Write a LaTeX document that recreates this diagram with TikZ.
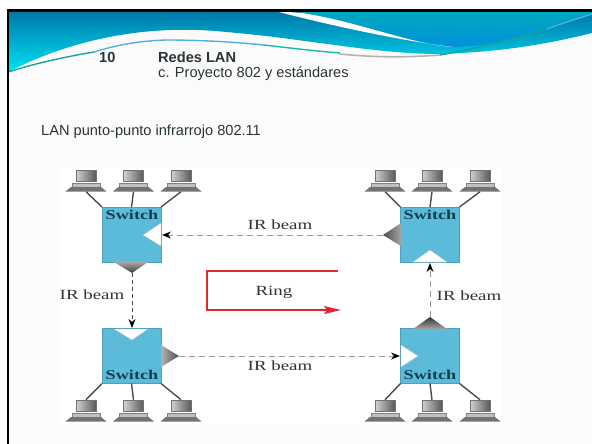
\documentclass[tikz,border=0pt]{standalone}
\usepackage{fontspec}
\setmainfont{Liberation Sans}
\newfontfamily\serifwide[FakeStretch=1.35]{Liberation Serif}
\usetikzlibrary{arrows.meta}
\definecolor{swblue}{HTML}{5CBBD9}
\definecolor{inktext}{HTML}{2A3438}
\definecolor{swink}{HTML}{123F50}
\definecolor{ringred}{HTML}{E2282E}
\definecolor{headtop}{HTML}{0075A8}
\definecolor{headbot}{HTML}{00E2F2}
\definecolor{sweeptop}{HTML}{00AABB}
\definecolor{sweepbot}{HTML}{0090DC}
\definecolor{linea}{HTML}{1E9E9E}
\definecolor{lineb}{HTML}{55B0DC}
\definecolor{linec}{HTML}{1CB8A8}
\tikzset{
  switchbox/.style={draw=swblue!85!black,line width=.6pt,fill=swblue,minimum width=59pt,minimum height=55pt,inner sep=0pt,outer sep=0pt},
  switchlabel/.style={font=\serifwide\bfseries\fontsize{13.5}{13.5}\selectfont,text=swink,inner sep=0pt},
  beamlabel/.style={font=\serifwide\fontsize{14}{14}\selectfont,text=black!80,inner sep=0pt},
  slidetext/.style={font=\fontsize{14.6}{16}\selectfont,text=inktext,anchor=west,inner sep=0pt},
  slidehead/.style={slidetext,font=\bfseries\fontsize{14.6}{16}\selectfont},
  beam/.style={draw=black!40,line width=1pt,dash pattern=on 6pt off 4pt},
  thinbeam/.style={draw=black!70,line width=.8pt,dash pattern=on 4pt off 3pt},
  beamhead/.style={-{Stealth[length=9pt,width=7pt,black]}},
  pclink/.style={draw=black!70,line width=1.4pt},
  pcnode/.style={minimum width=41pt,minimum height=22pt,inner sep=0pt,outer sep=0pt},
  notch/.style={fill=white,draw=black!25,line width=.3pt},
}
\newcommand{\pcdraw}[2]{%
  \shade[left color=black!18,right color=black!65,draw=black!55,line width=.4pt] (#1-10,#2) rectangle (#1+10,#2+11);
  \fill[black!25,draw=black!50,line width=.3pt] (#1-14,#2+13) rectangle (#1+14,#2+17);
  \fill[black!55] (#1-20.5,#2+21.5) -- (#1-15,#2+17) -- (#1+15,#2+17) -- (#1+20.5,#2+21.5) -- cycle;
}
\begin{document}
\begin{tikzpicture}[x=1pt,y=-1pt]
\useasboundingbox (0,0) rectangle (592,444);
\fill[white] (0,0) rectangle (592,444);
\fill[black!1.5] (8,10) rectangle (592,444);
\fill[white] (60,168) rectangle (503,425);
% header
\begin{scope}
\clip (8,10) rectangle (592,120);
\shade[top color=headtop,bottom color=headbot] (8,10) -- (592,10) -- (592,33)
  .. controls (540,46) and (490,53) .. (434,54)
  .. controls (370,53) and (300,38) .. (226,32)
  .. controls (170,26) and (90,30) .. (8,72) -- cycle;
\shade[top color=sweeptop,bottom color=sweepbot] (302,10) -- (592,10) -- (592,14)
  .. controls (550,28) and (500,46) .. (453,47)
  .. controls (410,44) and (360,22) .. (302,13) -- cycle;
\fill[white] (275,11) -- (302,13) .. controls (360,22) and (410,44) .. (453,47)
  .. controls (410,42) and (340,28) .. (275,11) -- cycle;
\draw[line width=1.4pt,linea] (8,72) .. controls (40,62) and (70,56) .. (94,52);
\draw[line width=1.4pt,lineb] (94,52) .. controls (120,44) and (140,41) .. (166,40) .. controls (200,40) and (235,42) .. (264,45);
\draw[line width=1.4pt,linec] (264,45) .. controls (290,48) and (315,51) .. (340,53);
\draw[line width=1.6pt,black!30] (340,54) .. controls (370,57) and (400,58) .. (440,55);
\draw[line width=1.4pt,linea] (440,55) .. controls (470,50) and (510,40) .. (547,29);
\draw[line width=1.2pt,lineb] (547,29) .. controls (560,24) and (580,18) .. (592,14);
\end{scope}
\fill[black] (7,9) rectangle (592,12);
\fill[black] (7,9) rectangle (9,444);
% texts
\node[slidehead] (num) at (99,57) {10};
\node[slidehead] (title) at (158,57) {Redes LAN};
\node[slidetext] (sub) at (158,74) {c. Proyecto 802 y estándares};
\node[slidetext] (lan) at (41,132) {LAN punto-punto infrarrojo 802.11};
% switches
\node[switchbox] (swTL) at (131.5,234.5) {};
\node[switchbox] (swTR) at (430,234.5) {};
\node[switchbox] (swBL) at (131.5,356) {};
\node[switchbox] (swBR) at (430,356) {};
\node[switchlabel] (lTL) at (132,215) {Switch};
\node[switchlabel] (lTR) at (430,215) {Switch};
\node[switchlabel] (lBL) at (132,375) {Switch};
\node[switchlabel] (lBR) at (430,375) {Switch};
% notches
\fill[notch] (161,223) -- (143,235) -- (161,246) -- cycle;
\fill[notch] (413,262) -- (430,250) -- (447,262) -- cycle;
\fill[notch] (114,329) -- (132,340) -- (148,329) -- cycle;
\fill[notch] (401,345) -- (418,356) -- (401,367) -- cycle;
% emitters
\shade[left color=black!70,right color=black!35] (401,223) -- (383,235) -- (401,246) -- cycle;
\shade[top color=black!35,bottom color=black!75] (114,262) -- (132,273) -- (148,262) -- cycle;
\shade[left color=black!30,right color=black!70] (161,345) -- (179,356) -- (161,367) -- cycle;
\shade[top color=black!80,bottom color=black!35] (413,329) -- (430,317) -- (447,329) -- cycle;
% beams
\coordinate (tipTR) at (383,235);
\coordinate (inTL) at (162,235);
\coordinate (tipTL) at (132,273);
\coordinate (inBL) at (132,328);
\coordinate (tipBL) at (179,356);
\coordinate (inBR) at (400,356);
\coordinate (tipBR) at (430,317);
\coordinate (inTR) at (430,263);
\draw[beam,beamhead] (tipTR) -- (inTL);
\draw[thinbeam,beamhead] (tipTL) -- (inBL);
\draw[beam,beamhead] (tipBL) -- (inBR);
\draw[beam,beamhead] (tipBR) -- (inTR);
\node[beamlabel] (b1) at (280,225) {IR beam};
\node[beamlabel] (b2) at (92,295) {IR beam};
\node[beamlabel] (b3) at (280,366) {IR beam};
\node[beamlabel] (b4) at (469,296) {IR beam};
% ring
\coordinate (ringA) at (338,271);
\coordinate (ringB) at (207,271);
\coordinate (ringC) at (207,310);
\coordinate (ringD) at (341,310);
\draw[ringred,line width=1.4pt,-{Stealth[length=17pt,width=8pt,inset=3pt]}] (ringA) -- (ringB) -- (ringC) -- (ringD);
\node[beamlabel] (ring) at (274,292) {Ring};
% PCs
\foreach \n/\px/\py in {a/86/170,b/133.5/170,c/181/170,d/385/170,e/432/170,f/480/170,
                        g/86/400,h/133.5/400,i/181/400,j/385/400,k/432/400,l/480/400}{
  \pcdraw{\px}{\py}
  \node[pcnode] (pc\n) at (\px,\py+10.75) {};
}
\draw[pclink] (pca.south) -- (swTL.north west);
\draw[pclink] (pcb.south) -- (swTL.north);
\draw[pclink] (pcc.south) -- (swTL.north east);
\draw[pclink] (pcd.south) -- (swTR.north west);
\draw[pclink] (pce.south) -- (swTR.north);
\draw[pclink] (pcf.south) -- (swTR.north east);
\draw[pclink] (pcg.north) -- (swBL.south west);
\draw[pclink] (pch.north) -- (swBL.south);
\draw[pclink] (pci.north) -- (swBL.south east);
\draw[pclink] (pcj.north) -- (swBR.south west);
\draw[pclink] (pck.north) -- (swBR.south);
\draw[pclink] (pcl.north) -- (swBR.south east);
\end{tikzpicture}
\end{document}
